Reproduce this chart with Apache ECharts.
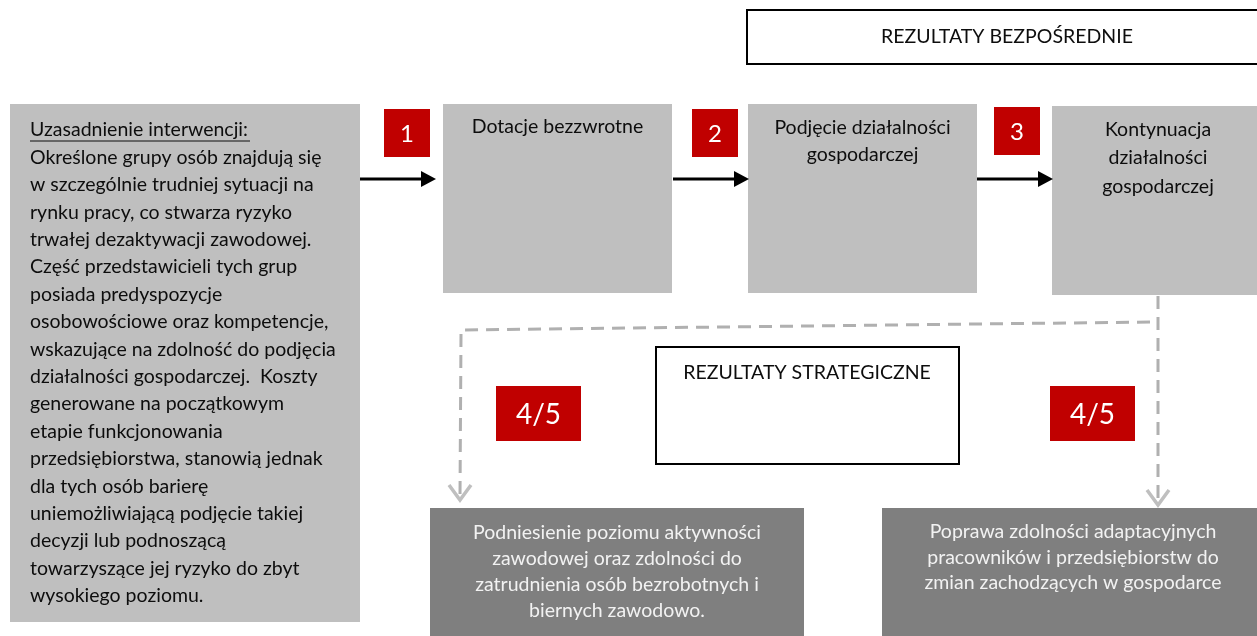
<!DOCTYPE html>
<html>
<head>
<meta charset="utf-8">
<script src="https://cdn.jsdelivr.net/npm/echarts@6/dist/echarts.min.js"></script>
<style>
  html, body { margin: 0; padding: 0; background: #fff; }
  #chart { width: 1257px; height: 636px; }
</style>
</head>
<body>
<div id="chart"></div>
<script>
// treść diagramu
const justificationTitle = 'Uzasadnienie interwencji:';
const justificationLines = [
  'Określone grupy osób znajdują się',
  'w szczególnie trudniej sytuacji na',
  'rynku pracy, co stwarza ryzyko',
  'trwałej dezaktywacji zawodowej.',
  'Część przedstawicieli tych grup',
  'posiada predyspozycje',
  'osobowościowe oraz kompetencje,',
  'wskazujące na zdolność do podjęcia',
  'działalności gospodarczej.  Koszty',
  'generowane na początkowym',
  'etapie funkcjonowania',
  'przedsiębiorstwa, stanowią jednak',
  'dla tych osób barierę',
  'uniemożliwiającą podjęcie takiej',
  'decyzji lub podnoszącą',
  'towarzyszące jej ryzyko do zbyt',
  'wysokiego poziomu.'
];
const stepLabels = ['Dotacje bezzwrotne', 'Podjęcie działalności\ngospodarczej', 'Kontynuacja\ndziałalności\ngospodarczej'];
const stepBadges = ['1', '2', '3'];
const directTitle = 'REZULTATY BEZPOŚREDNIE';
const strategicTitle = 'REZULTATY STRATEGICZNE';
const strategicBadges = ['4/5', '4/5'];
const strategicLabels = [
  'Podniesienie poziomu aktywności\nzawodowej oraz zdolności do\nzatrudnienia osób bezrobotnych i\nbiernych zawodowo.',
  'Poprawa zdolności adaptacyjnych\npracowników i przedsiębiorstw do\nzmian zachodzących w gospodarce'
];

const FONT = 'Lato, "Open Sans", sans-serif';
const GREY = '#BFBFBF';
const DARK = '#7F7F7F';
const RED = '#C00000';

function txt(x, y, text, opt) {
  opt = opt || {};
  return {
    type: 'text', x: x, y: y, z: 10,
    style: {
      text: text,
      fill: opt.fill || '#0d0d0d',
      font: (opt.size || 19.5) + 'px ' + FONT,
      textAlign: opt.align || 'center', align: opt.align || 'center',
      textVerticalAlign: 'middle', verticalAlign: 'middle',
      lineHeight: opt.lh || 27
    }
  };
}
function box(x, y, w, h, fill, stroke) {
  return {
    type: 'rect', shape: { x: x, y: y, width: w, height: h },
    style: stroke ? { fill: '#fff', stroke: stroke, lineWidth: 2 } : { fill: fill }
  };
}
function badge(x, y, w, h, text, size) {
  return [box(x, y, w, h, RED), txt(x + w / 2, y + h / 2 + 1, text, { fill: '#fff', size: size })];
}
function arrow(x1, x2, y) {
  return [
    { type: 'line', shape: { x1: x1, y1: y, x2: x2 - 12, y2: y }, style: { stroke: '#000', lineWidth: 3 } },
    { type: 'polygon', shape: { points: [[x2 - 15, y - 8], [x2, y], [x2 - 15, y + 8]] }, style: { fill: '#000' } }
  ];
}
function chevron(x, y) {
  return { type: 'polyline', shape: { points: [[x - 11, y - 15], [x, y], [x + 11, y - 15]] },
    style: { stroke: GREY, lineWidth: 3.5, fill: null } };
}
const dash = { stroke: '#B0B0B0', lineWidth: 3, lineDash: [13, 8], fill: null };

const els = [];
// REZULTATY BEZPOŚREDNIE
els.push(box(747, 10, 520, 54, null, '#000'));
els.push(txt(1007, 37, directTitle, { size: 19.5 }));

// lewy blok uzasadnienia
els.push(box(10, 104, 350, 518, GREY));
els.push(txt(30, 130, justificationTitle, { align: 'left' }));
els.push({ type: 'line', shape: { x1: 30, y1: 141, x2: 250, y2: 141 }, style: { stroke: '#0d0d0d', lineWidth: 1 } });
els.push(txt(30, 157.5 + 27.4 * (justificationLines.length - 1) / 2, justificationLines.join('\n'), { align: 'left', lh: 27.4 }));

// kroki
const stepBoxes = [[443, 104, 229, 189], [748, 104, 229, 189], [1052, 106, 220, 189]];
const stepTextY = [127, 141.5, 158];
const stepLH = [27, 27, 28.5];
stepBoxes.forEach((b, i) => {
  els.push(box(b[0], b[1], b[2], b[3], GREY));
  const cx = i === 2 ? 1158 : b[0] + b[2] / 2;
  els.push(txt(cx, stepTextY[i], stepLabels[i], { lh: stepLH[i] }));
});
const badgePos = [[384, 109], [692, 109], [994, 107]];
badgePos.forEach((p, i) => els.push(...badge(p[0], p[1], 46, 48, stepBadges[i], 24)));
els.push(...arrow(360, 436, 179));
els.push(...arrow(673, 749, 179));
els.push(...arrow(977, 1053, 179));

// połączenia przerywane
els.push({ type: 'line', shape: { x1: 1158, y1: 296, x2: 1158, y2: 500 }, style: dash });
els.push({ type: 'line', shape: { x1: 1150, y1: 322, x2: 462, y2: 330 }, style: dash });
els.push({ type: 'line', shape: { x1: 461, y1: 334, x2: 460, y2: 496 }, style: dash });
els.push(chevron(460, 500));
els.push(chevron(1158, 505));

// REZULTATY STRATEGICZNE
els.push(box(656, 347, 303, 117, null, '#000'));
els.push(txt(807, 373, strategicTitle, { size: 19.5 }));
els.push(...badge(496, 386, 85, 55, strategicBadges[0], 28));
els.push(...badge(1050, 386, 85, 55, strategicBadges[1], 28));

// rezultaty końcowe
els.push(box(430, 508, 374, 130, DARK));
els.push(txt(617, 572, strategicLabels[0], { fill: '#F2F2F2', lh: 26 }));
els.push(box(882, 508, 380, 130, DARK));
els.push(txt(1073, 557.5, strategicLabels[1], { fill: '#F2F2F2', lh: 25.5 }));

const chart = echarts.init(document.getElementById('chart'));
chart.setOption({ animation: false, graphic: { elements: els } });
</script>
</body>
</html>
